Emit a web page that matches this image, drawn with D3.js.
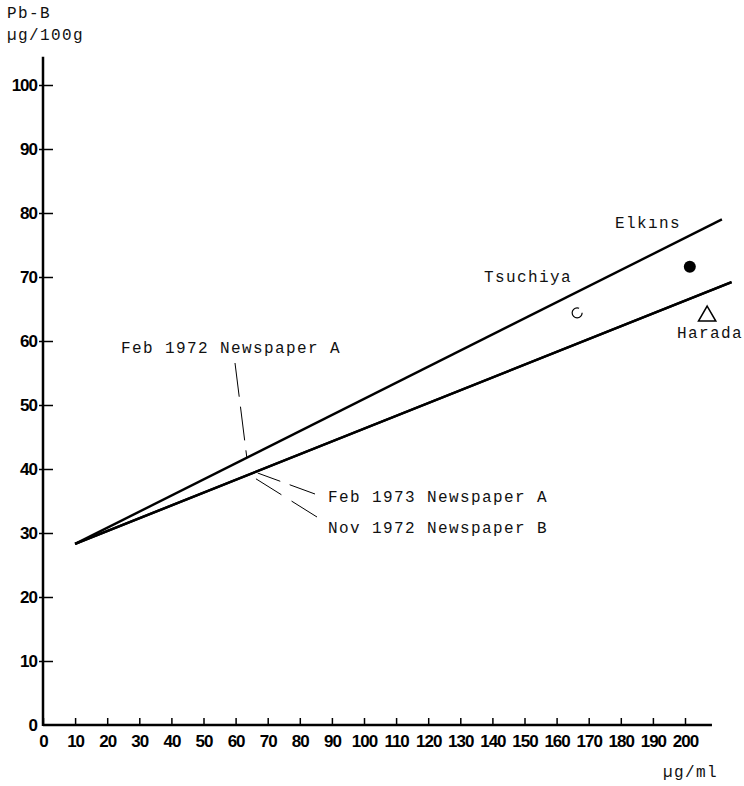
<!DOCTYPE html>
<html>
<head>
<meta charset="utf-8">
<script src="https://cdn.jsdelivr.net/npm/d3@7"></script>
<style>
  body { margin: 0; background: #fff; }
  svg { display: block; }
  .tick text { font-family: "Liberation Sans", Arial, sans-serif; font-size: 17px; font-weight: bold; letter-spacing: -1px; fill: #000; }
  .mono { font-family: "Liberation Mono", "DejaVu Sans Mono", monospace; font-size: 16px; letter-spacing: 1.4px; fill: #111; }
</style>
</head>
<body>
<svg width="744" height="786"></svg>
<script>
// tick values
var xTicks = [0, 10, 20, 30, 40, 50, 60, 70, 80, 90, 100, 110, 120, 130, 140, 150, 160, 170, 180, 190, 200];
var yTicks = [0, 10, 20, 30, 40, 50, 60, 70, 80, 90, 100];

// regression lines (Pb-air ug/ml vs Pb-B ug/100g), start and end points
var feb1972A = [[10, 28.3], [211.5, 79.0]];
var feb1973A = [[10, 28.3], [214.5, 69.2]];
var nov1972B = [[10, 28.3], [214.5, 69.2]];

// other studies
var studyNames = ["Tsuchiya", "Elkins", "Harada"];
var studyX = [166.4, 201.5, 206.9];
var studyY = [64.4, 71.6, 63.9];

var svg = d3.select("svg");

var x = d3.scaleLinear().domain([0, 200]).range([43, 685]);
var y = d3.scaleLinear().domain([0, 100]).range([725, 85]);

// axis lines
svg.append("line")
    .attr("x1", x(0)).attr("x2", x(208.4))
    .attr("y1", y(0)).attr("y2", y(0))
    .attr("stroke", "#000").attr("stroke-width", 2.5);
svg.append("line")
    .attr("x1", x(0)).attr("x2", x(0))
    .attr("y1", y(0) + 1).attr("y2", y(104.4))
    .attr("stroke", "#000").attr("stroke-width", 2.5);

var xAxis = svg.append("g")
    .attr("transform", "translate(0," + y(0) + ")")
    .call(d3.axisBottom(x).tickValues(xTicks).tickSize(-7).tickSizeOuter(0).tickPadding(10));
xAxis.select(".domain").remove();
xAxis.selectAll(".tick line").attr("stroke-width", 1.5);

var yAxis = svg.append("g")
    .attr("transform", "translate(" + x(0) + ",0)")
    .call(d3.axisLeft(y).tickValues(yTicks).tickSize(0).tickSizeOuter(0).tickPadding(6));
yAxis.select(".domain").remove();
yAxis.selectAll(".tick line")
    .attr("x1", -4).attr("x2", 10)
    .attr("stroke", "#000").attr("stroke-width", 1.5);
// the 0 tick has no mark on the y axis
yAxis.selectAll(".tick").filter(function(d) { return d === 0; }).select("line").remove();

// the lines
var line = d3.line()
    .x(function(d) { return x(d[0]); })
    .y(function(d) { return y(d[1]); });

[feb1972A, feb1973A, nov1972B].forEach(function(s) {
    svg.append("path")
        .datum(s)
        .attr("d", line)
        .attr("fill", "none")
        .attr("stroke", "#000")
        .attr("stroke-width", 2.4);
});

// study markers
svg.append("circle")
    .attr("cx", x(studyX[0])).attr("cy", y(studyY[0])).attr("r", 5)
    .attr("fill", "none").attr("stroke", "#000").attr("stroke-width", 1.2)
    .attr("stroke-dasharray", "25,6");
svg.append("circle")
    .attr("cx", x(studyX[1])).attr("cy", y(studyY[1])).attr("r", 6)
    .attr("fill", "#000");
svg.append("path")
    .attr("d", d3.symbol().type(d3.symbolTriangle).size(130))
    .attr("transform", "translate(" + x(studyX[2]) + "," + y(studyY[2]) + ")")
    .attr("fill", "none").attr("stroke", "#000").attr("stroke-width", 1.5);

// study labels
svg.append("text").attr("class", "mono").attr("x", 484).attr("y", 282).text(studyNames[0]);
svg.append("text").attr("class", "mono").attr("x", 615).attr("y", 228).text("Elkıns");
svg.append("text").attr("class", "mono").attr("x", 677).attr("y", 338).text(studyNames[2]);

// axis titles
svg.append("text").attr("class", "mono").attr("x", 7).attr("y", 18).attr("letter-spacing", 3).text("Pb-B");
svg.append("text").attr("class", "mono").attr("x", 7).attr("y", 40).text("µg/100g");
svg.append("text").attr("class", "mono").attr("x", 663).attr("y", 777).text("µg/ml");

// series labels with dashed leaders
function upperAt(v) { var a = feb1972A[0], b = feb1972A[1]; return a[1] + (b[1] - a[1]) * (v - a[0]) / (b[0] - a[0]); }
function lowerAt(v) { var a = feb1973A[0], b = feb1973A[1]; return a[1] + (b[1] - a[1]) * (v - a[0]) / (b[0] - a[0]); }

svg.append("text").attr("class", "mono").attr("x", 121).attr("y", 353).text("Feb 1972 Newspaper A");
svg.append("text").attr("class", "mono").attr("x", 328).attr("y", 502).text("Feb 1973 Newspaper A");
svg.append("text").attr("class", "mono").attr("x", 328).attr("y", 533).text("Nov 1972 Newspaper B");

var leaders = [
    [235, 363, x(63.5), y(upperAt(63.5)), "34,10"],
    [315, 494, x(66.9), y(lowerAt(66.9)) + 2, "27,10"],
    [317, 517, x(64.5), y(lowerAt(64.5)) + 1, "30,12"]
];
leaders.forEach(function(l) {
    svg.append("line")
        .attr("x1", l[0]).attr("y1", l[1]).attr("x2", l[2]).attr("y2", l[3])
        .attr("stroke", "#000").attr("stroke-width", 1)
        .attr("stroke-dasharray", l[4]);
});
</script>
</body>
</html>
